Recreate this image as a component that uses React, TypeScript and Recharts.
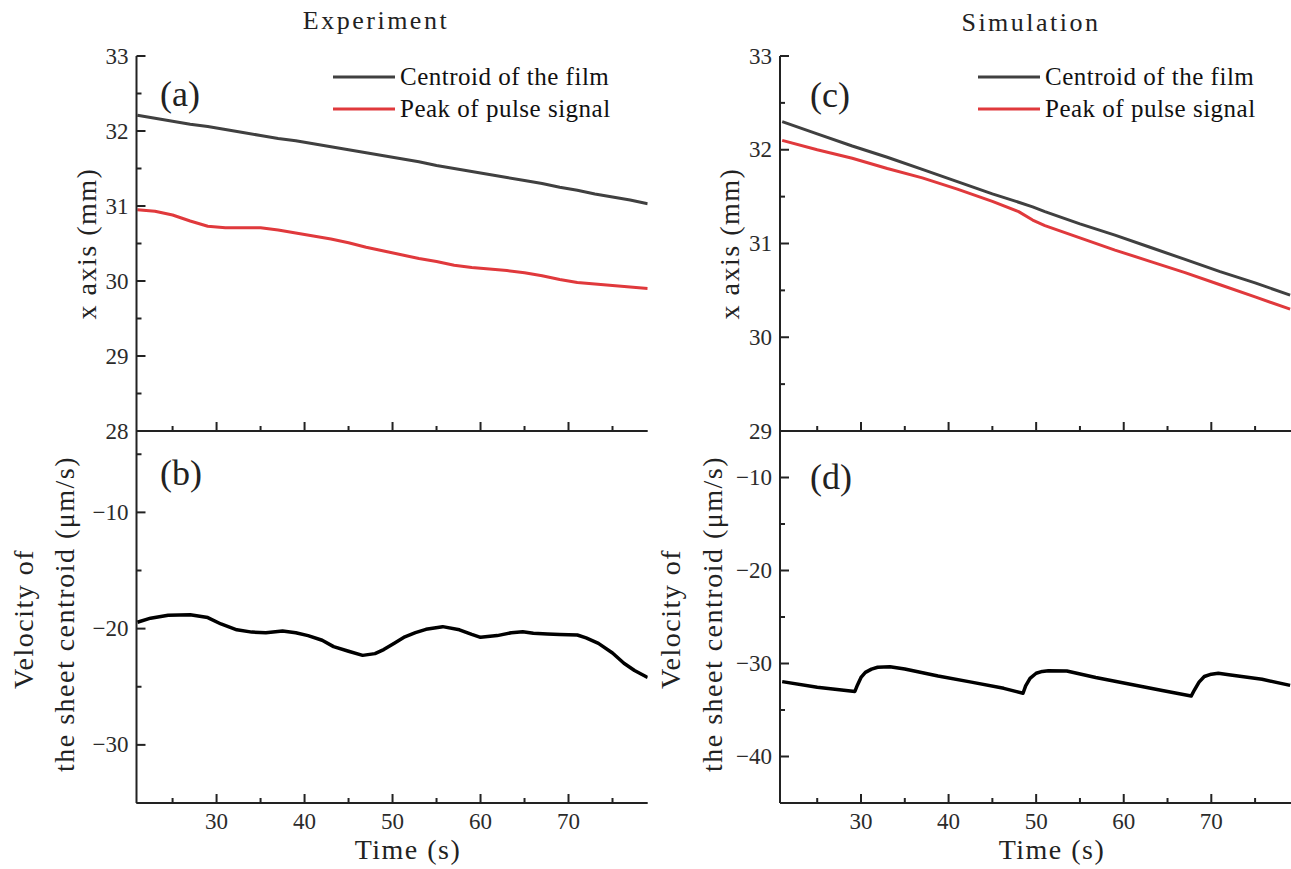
import React from 'react';
import { LineChart, Line, XAxis, YAxis, Legend } from 'recharts';

const FONT = '"Liberation Serif", "Times New Roman", serif';
const W = 1291;
const H = 869;

// (a) experiment: position along x (mm)
const timeA = [21, 23, 25, 27, 29, 31, 33, 35, 37, 39, 41, 43, 45, 47, 49, 51, 53, 55, 57, 59, 61, 63, 65, 67, 69, 71, 73, 75, 77, 79];
const centroidA = [32.21, 32.17, 32.13, 32.09, 32.06, 32.02, 31.98, 31.94, 31.9, 31.87, 31.83, 31.79, 31.75, 31.71, 31.67, 31.63, 31.59, 31.54, 31.5, 31.46, 31.42, 31.38, 31.34, 31.3, 31.25, 31.21, 31.16, 31.12, 31.08, 31.03];
const peakA = [30.95, 30.93, 30.88, 30.8, 30.73, 30.71, 30.71, 30.71, 30.68, 30.64, 30.6, 30.56, 30.51, 30.45, 30.4, 30.35, 30.3, 30.26, 30.21, 30.18, 30.16, 30.14, 30.11, 30.07, 30.02, 29.98, 29.96, 29.94, 29.92, 29.9];

// (b) experiment: centroid velocity (um/s)
const timeB = [21, 22.5, 24.5, 27, 29, 30.5, 32.3, 34, 35.6, 37.5, 39, 40.4, 42, 43.3, 45, 46.6, 48, 49, 50.2, 51.4, 52.6, 53.8, 55.7, 57.6, 59, 60, 61.9, 63.5, 64.8, 66, 67.6, 69, 71, 72, 73.4, 75, 76.3, 77.5, 79];
const velocityB = [-19.45, -19.1, -18.85, -18.8, -19.05, -19.6, -20.1, -20.3, -20.35, -20.2, -20.35, -20.6, -21.0, -21.55, -21.95, -22.3, -22.15, -21.8, -21.25, -20.7, -20.35, -20.06, -19.83, -20.1, -20.5, -20.75, -20.6, -20.35, -20.26, -20.4, -20.46, -20.5, -20.55, -20.8, -21.27, -22.1, -22.98, -23.6, -24.2];

// (c) simulation: position along x (mm)
const timeC = [21, 25, 29, 33, 37, 41, 45, 48, 49.6, 51, 55, 59, 63, 67, 71, 75, 79];
const centroidC = [32.3, 32.17, 32.04, 31.92, 31.79, 31.66, 31.53, 31.44, 31.39, 31.34, 31.21, 31.09, 30.96, 30.83, 30.7, 30.58, 30.45];
const peakC = [32.1, 32.0, 31.91, 31.8, 31.7, 31.58, 31.45, 31.34, 31.25, 31.19, 31.06, 30.93, 30.81, 30.69, 30.56, 30.43, 30.3];

// (d) simulation: centroid velocity (um/s)
const timeD = [21, 25, 29.3, 29.6, 30, 30.5, 31.2, 31.9, 33.3, 35, 38.8, 42.6, 46.3, 48.5, 48.8, 49.3, 50, 50.7, 51.4, 53.5, 56.8, 60.6, 64.4, 67.7, 68.1, 68.6, 69.2, 70, 70.8, 72, 75.8, 79];
const velocityD = [-31.95, -32.55, -33.0, -32.3, -31.5, -30.95, -30.6, -30.4, -30.34, -30.6, -31.35, -32.0, -32.67, -33.2, -32.4, -31.6, -31.05, -30.85, -30.77, -30.8, -31.5, -32.2, -32.9, -33.5, -32.8, -32.0, -31.4, -31.15, -31.06, -31.2, -31.7, -32.35];

const xTicks = [25, 30, 35, 40, 45, 50, 55, 60, 65, 70, 75];
const ticksA = [28, 28.5, 29, 29.5, 30, 30.5, 31, 31.5, 32, 32.5, 33];
const ticksB = [-35, -30, -25, -20, -15, -10, -5];
const ticksC = [29, 29.5, 30, 30.5, 31, 31.5, 32, 32.5, 33];
const ticksD = [-45, -40, -35, -30, -25, -20, -15, -10, -5];

const dataA = timeA.map((t, i) => ({ t, centroid: centroidA[i], peak: peakA[i] }));
const dataB = timeB.map((t, i) => ({ t, v: velocityB[i] }));
const dataC = timeC.map((t, i) => ({ t, centroid: centroidC[i], peak: peakC[i] }));
const dataD = timeD.map((t, i) => ({ t, v: velocityD[i] }));

const AXIS = '#222';
const GRAY = '#404040';
const RED = '#e0393c';

const fmt = (v: number) => (v < 0 ? '\u2212' + Math.abs(v) : String(v));
const isMajor = (v: number, step: number) => Math.abs(v / step - Math.round(v / step)) < 1e-6;

const renderYTick = (p: any, step: number) => {
  const v = p.payload.value;
  const major = isMajor(v, step);
  return (
    <g>
      <line x1={p.x} x2={p.x + (major ? 9 : 5)} y1={p.y} y2={p.y} stroke={AXIS} strokeWidth={2} />
      {major && (
        <text x={p.x - 8} y={p.y} textAnchor="end" dominantBaseline="central" fontFamily={FONT} fontSize={23} fill="#2b2b2b">
          {fmt(v)}
        </text>
      )}
    </g>
  );
};

const renderXTick = (p: any, labels: boolean) => {
  const v = p.payload.value;
  const major = isMajor(v, 10);
  return (
    <g>
      <line x1={p.x} x2={p.x} y1={p.y} y2={p.y - (major ? 9 : 5)} stroke={AXIS} strokeWidth={2} />
      {labels && major && (
        <text x={p.x} y={p.y + 18} textAnchor="middle" dominantBaseline="central" fontFamily={FONT} fontSize={23} fill="#2b2b2b">
          {fmt(v)}
        </text>
      )}
    </g>
  );
};

const renderLegend = (props: any) => (
  <div style={{ fontFamily: FONT, fontSize: 25, color: '#111' }}>
    {(props.payload || []).map((item: any) => (
      <div key={item.value} style={{ display: 'flex', alignItems: 'center', height: 32 }}>
        <svg width={62} height={6} style={{ display: 'block' }}>
          <line x1={0} x2={62} y1={3} y2={3} stroke={item.color} strokeWidth={3} />
        </svg>
        <span style={{ marginLeft: 5, letterSpacing: 0.5, whiteSpace: 'nowrap' }}>{item.value}</span>
      </div>
    ))}
  </div>
);

type Series = { key: string; name: string; color: string; width: number };

type PanelProps = {
  data: any[];
  series: Series[];
  left: number;
  right: number;
  top: number;
  bottom: number;
  xDomain: [number, number];
  yDomain: [number, number];
  yTicks: number[];
  yStep: number;
  xLabels: boolean;
  rightFrame: boolean;
  legendPos?: { left: number; top: number };
};

const Panel = ({ data, series, left, right, top, bottom, xDomain, yDomain, yTicks, yStep, xLabels, rightFrame, legendPos }: PanelProps) => (
  <div style={{ position: 'absolute', left: 0, top: 0 }}>
    <LineChart
      width={W}
      height={H}
      data={data}
      margin={{ top, left: left - 60, right: W - right, bottom: H - bottom - 30 }}
    >
      <XAxis
        dataKey="t"
        type="number"
        domain={xDomain}
        allowDataOverflow
        ticks={xTicks}
        interval={0}
        height={30}
        tickSize={0}
        tickMargin={0}
        axisLine={{ stroke: AXIS, strokeWidth: 2 }}
        tickLine={false}
        tick={(p: any) => renderXTick(p, xLabels)}
      />
      <XAxis
        xAxisId="top"
        dataKey="t"
        type="number"
        orientation="top"
        domain={xDomain}
        allowDataOverflow
        height={0}
        tick={false}
        tickLine={false}
        axisLine={{ stroke: AXIS, strokeWidth: 2 }}
      />
      <YAxis
        type="number"
        domain={yDomain}
        allowDataOverflow
        ticks={yTicks}
        interval={0}
        width={60}
        tickSize={0}
        tickMargin={0}
        axisLine={{ stroke: AXIS, strokeWidth: 2 }}
        tickLine={false}
        tick={(p: any) => renderYTick(p, yStep)}
      />
      {rightFrame && (
        <YAxis
          yAxisId="right"
          orientation="right"
          type="number"
          domain={yDomain}
          allowDataOverflow
          width={0}
          tick={false}
          tickLine={false}
          axisLine={{ stroke: AXIS, strokeWidth: 2 }}
        />
      )}
      {series.map((s) => (
        <Line
          key={s.key}
          type="linear"
          dataKey={s.key}
          name={s.name}
          stroke={s.color}
          strokeWidth={s.width}
          dot={false}
          activeDot={false}
          isAnimationActive={false}
          strokeLinejoin="round"
        />
      ))}
      {legendPos && (
        <Legend
          layout="vertical"
          align="center"
          verticalAlign="middle"
          content={renderLegend}
          wrapperStyle={{ left: legendPos.left, top: legendPos.top, width: 320 }}
        />
      )}
    </LineChart>
  </div>
);

const posSeries: Series[] = [
  { key: 'centroid', name: 'Centroid of the film', color: GRAY, width: 3 },
  { key: 'peak', name: 'Peak of pulse signal', color: RED, width: 3 },
];
const velSeries: Series[] = [{ key: 'v', name: 'Velocity', color: '#000', width: 3.5 }];

const txt = { fontFamily: FONT, fill: '#222' };

export default function App() {
  return (
    <div style={{ position: 'absolute', left: 0, top: 0, width: W, height: H, overflow: 'hidden', background: '#fff' }}>
      <Panel data={dataA} series={posSeries} left={136.5} right={647.7} top={56} bottom={431}
        xDomain={[20.9, 79]} yDomain={[28, 33]} yTicks={ticksA} yStep={1} xLabels={false} rightFrame
        legendPos={{ left: 333, top: 61 }} />
      <Panel data={dataB} series={velSeries} left={136.5} right={647.7} top={431} bottom={803}
        xDomain={[20.9, 79]} yDomain={[-35, -3]} yTicks={ticksB} yStep={10} xLabels rightFrame />
      <Panel data={dataC} series={posSeries} left={780} right={1291} top={56} bottom={431}
        xDomain={[20.75, 79.1]} yDomain={[29, 33]} yTicks={ticksC} yStep={1} xLabels={false} rightFrame={false}
        legendPos={{ left: 978, top: 61 }} />
      <Panel data={dataD} series={velSeries} left={780} right={1291} top={431} bottom={803}
        xDomain={[20.75, 79.1]} yDomain={[-45, -5]} yTicks={ticksD} yStep={10} xLabels rightFrame={false} />

      <svg width={W} height={H} style={{ position: 'absolute', left: 0, top: 0, pointerEvents: 'none' }}>
        <text x={376} y={29} textAnchor="middle" fontSize={26} letterSpacing={2.5} {...txt}>Experiment</text>
        <text x={1031} y={31} textAnchor="middle" fontSize={26} letterSpacing={2.5} {...txt}>Simulation</text>

        <text x={160} y={94} dominantBaseline="central" fontSize={36} {...txt}>(a)</text>
        <text x={160} y={473} dominantBaseline="central" fontSize={36} {...txt}>(b)</text>
        <text x={810} y={95} dominantBaseline="central" fontSize={36} {...txt}>(c)</text>
        <text x={810} y={477} dominantBaseline="central" fontSize={36} {...txt}>(d)</text>

        <text transform="translate(86,243.5) rotate(-90)" textAnchor="middle" dominantBaseline="central" fontSize={28} letterSpacing={1.5} {...txt}>x axis (mm)</text>
        <text transform="translate(729,243.5) rotate(-90)" textAnchor="middle" dominantBaseline="central" fontSize={28} letterSpacing={1.5} {...txt}>x axis (mm)</text>

        <text transform="translate(23,619) rotate(-90)" textAnchor="middle" dominantBaseline="central" fontSize={28} letterSpacing={1.5} {...txt}>Velocity of</text>
        <text transform="translate(64,614) rotate(-90)" textAnchor="middle" dominantBaseline="central" fontSize={28} letterSpacing={1.5} {...txt}>the sheet centroid (μm/s)</text>
        <text transform="translate(670,619) rotate(-90)" textAnchor="middle" dominantBaseline="central" fontSize={28} letterSpacing={1.5} {...txt}>Velocity of</text>
        <text transform="translate(712,614) rotate(-90)" textAnchor="middle" dominantBaseline="central" fontSize={28} letterSpacing={1.5} {...txt}>the sheet centroid (μm/s)</text>

        <text x={408} y={859} textAnchor="middle" fontSize={28} letterSpacing={1.5} {...txt}>Time (s)</text>
        <text x={1052} y={859} textAnchor="middle" fontSize={28} letterSpacing={1.5} {...txt}>Time (s)</text>
      </svg>
    </div>
  );
}
